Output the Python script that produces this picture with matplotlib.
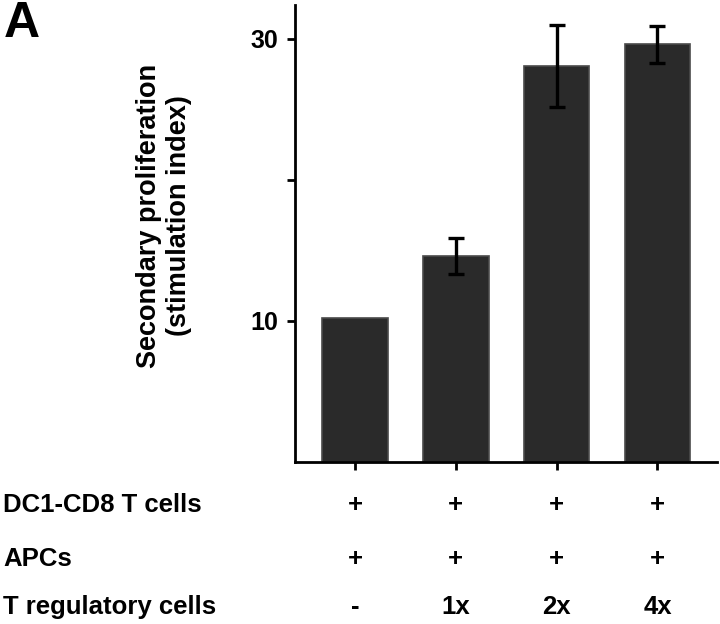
import matplotlib
matplotlib.use("Agg")
import matplotlib.pyplot as plt
import matplotlib.transforms as mtransforms
import numpy as np

plt.rcParams['font.family'] = ['Liberation Sans', 'DejaVu Sans']
plt.rcParams['font.weight'] = 'bold'

conditions = ["-", "1x", "2x", "4x"]
values = [10.2, 14.6, 28.1, 29.6]
errors = [0.0, 1.3, 2.9, 1.3]
row_labels = ["DC1-CD8 T cells", "APCs", "T regulatory cells"]
row_dc1 = ["+", "+", "+", "+"]
row_apc = ["+", "+", "+", "+"]
row_treg = conditions
ytick_vals = [10, 20, 30]
ytick_labels = ["10", "", "30"]

fig = plt.figure(figsize=(7.2, 6.24), dpi=100)
ax = fig.add_axes([295/720, 1-462/624, 422/720, 457/624])

x = np.arange(len(values))
ax.bar(x, values, width=0.65, color='#2a2a2a', edgecolor='#4a4a4a', linewidth=1.2, zorder=2)
for xi, v, e in zip(x, values, errors):
    if e > 0:
        ax.errorbar(xi, v, yerr=e, fmt='none', ecolor='black', elinewidth=2.4,
                    capsize=6, capthick=2.4, zorder=3)

ax.set_xlim(-0.594, 3.59)
ax.set_ylim(0, 32.4)
ax.set_yticks(ytick_vals)
ax.set_yticklabels(ytick_labels, fontsize=18, fontweight='bold')
ax.set_xticks(x)
ax.set_xticklabels([])
ax.tick_params(axis='y', direction='out', length=6, width=2, pad=6)
ax.tick_params(axis='x', direction='out', length=6, width=2)
for s in ['top', 'right']:
    ax.spines[s].set_visible(False)
for s in ['left', 'bottom']:
    ax.spines[s].set_linewidth(2)

fig.text(164/720, 1-216/624, "Secondary proliferation\n(stimulation index)",
         rotation=90, ha='center', va='center', multialignment='center',
         fontsize=19.5, fontweight='bold', linespacing=1.2)

fig.text(4/720, 1-24/624, "A", fontsize=36, fontweight='bold', ha='left', va='center')

trans = mtransforms.blended_transform_factory(ax.transData, fig.transFigure)
row_y = [505, 559, 607]
rows = [row_dc1, row_apc, row_treg]
for lab, ry, vals in zip(row_labels, row_y, rows):
    fig.text(3/720, 1-ry/624, lab, fontsize=18.5, fontweight='bold', ha='left', va='center')
    for xi, t in zip(x, vals):
        ax.text(xi, 1-ry/624, t, transform=trans, fontsize=18.5, fontweight='bold',
                ha='center', va='center', clip_on=False)

fig.savefig("out.png", dpi=100)
